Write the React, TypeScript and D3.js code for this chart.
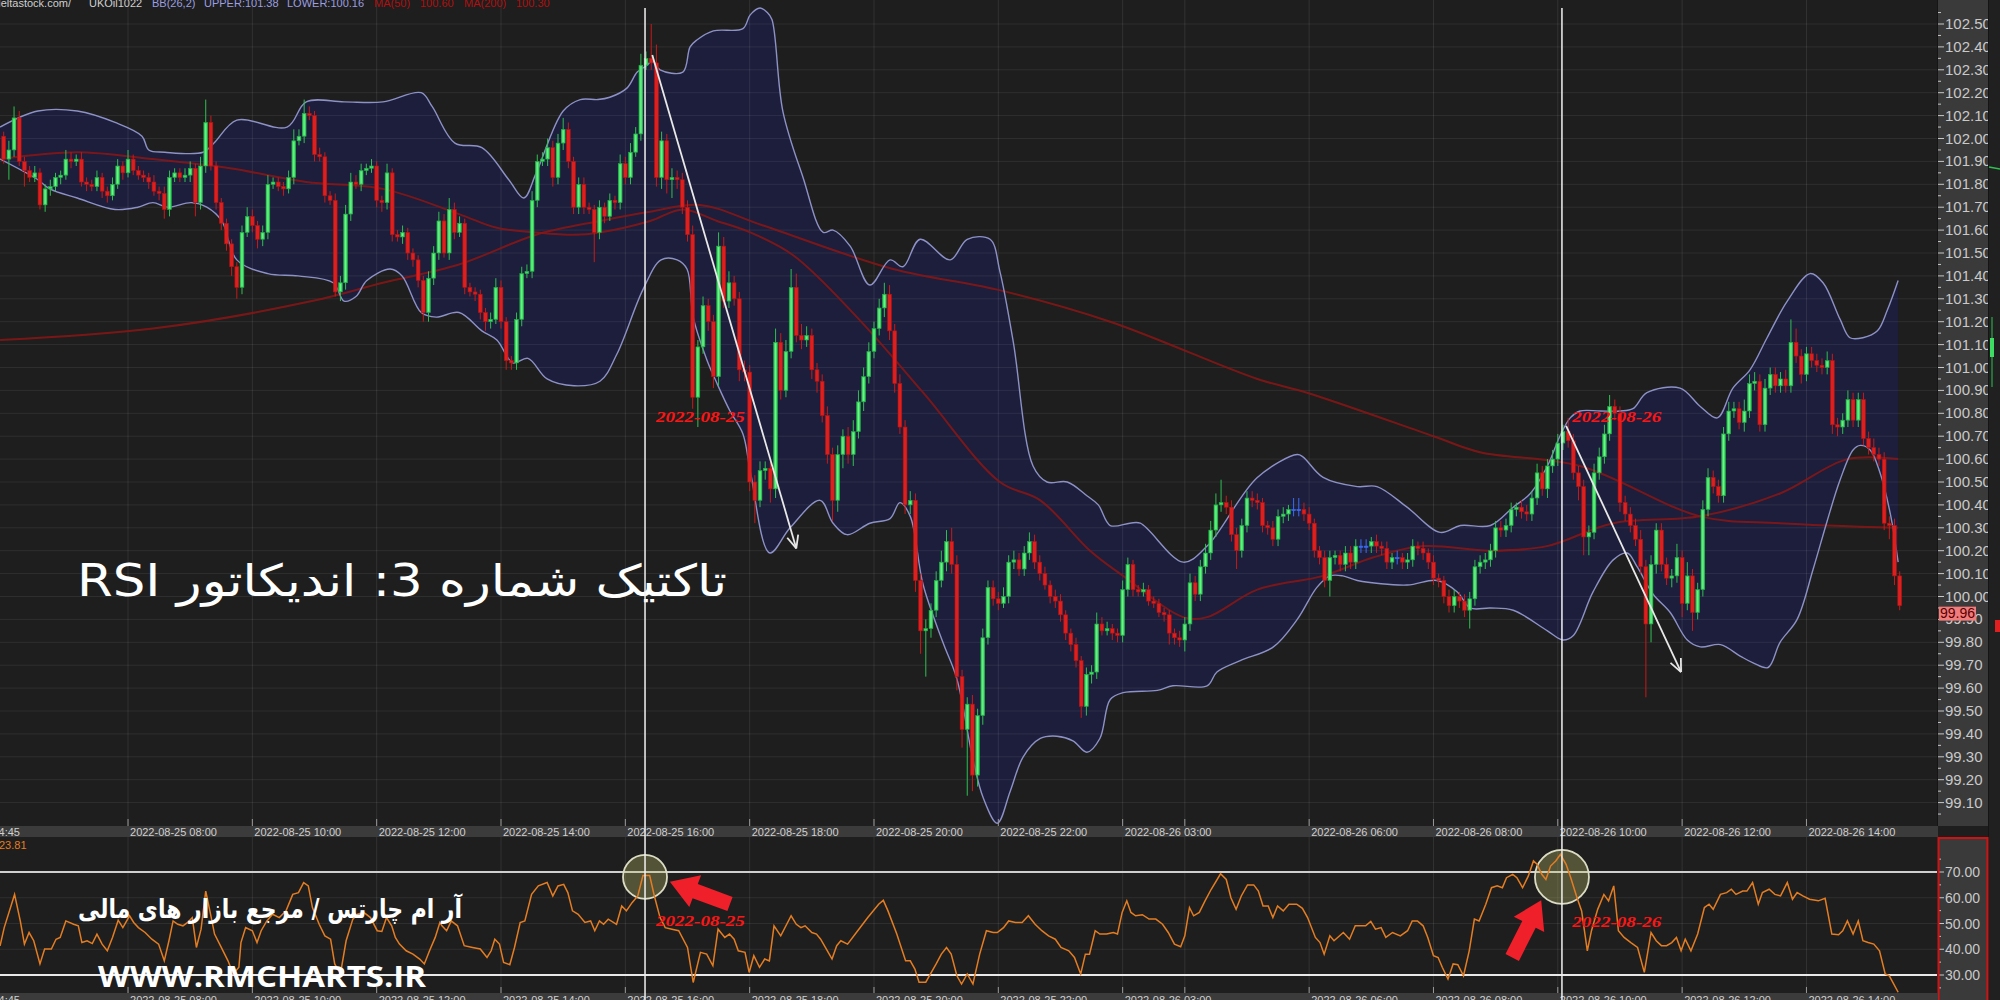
import React from "react";
import * as d3 from "d3";

// ---------------- DATA ----------------
const firstOpen = 102.01;
const closes: number[] = [
  101.91,101.95,102.09,101.90,101.86,101.83,101.85,101.71,101.78,101.79,
  101.83,101.84,101.91,101.90,101.91,101.81,101.80,101.79,101.83,101.77,
  101.75,101.80,101.88,101.85,101.91,101.86,101.84,101.83,101.81,101.77,
  101.76,101.69,101.83,101.85,101.83,101.84,101.87,101.72,101.88,102.07,
  101.88,101.72,101.63,101.54,101.44,101.35,101.59,101.66,101.62,101.56,
  101.59,101.80,101.81,101.79,101.78,101.83,101.99,102.01,102.11,102.10,
  101.93,101.92,101.75,101.73,101.33,101.37,101.67,101.81,101.80,101.86,
  101.87,101.88,101.73,101.72,101.85,101.58,101.57,101.59,101.50,101.47,
  101.38,101.24,101.39,101.50,101.64,101.50,101.69,101.59,101.63,101.35,
  101.33,101.32,101.24,101.20,101.21,101.35,101.20,101.03,101.02,101.21,
  101.41,101.42,101.73,101.90,101.91,101.96,101.83,101.98,102.04,101.90,
  101.70,101.80,101.70,101.69,101.59,101.70,101.66,101.73,101.72,101.89,
  101.83,101.94,102.02,102.32,102.35,102.33,101.83,101.99,101.82,101.83,
  101.82,101.70,101.58,100.87,101.09,101.27,101.20,100.96,101.53,101.29,
  101.37,101.30,100.99,100.98,100.50,100.42,100.55,100.56,100.47,101.11,
  100.90,101.07,101.35,101.14,101.12,101.14,100.99,100.94,100.79,100.62,
  100.42,100.62,100.70,100.62,100.72,100.85,100.96,101.07,101.17,101.26,
  101.32,101.16,100.93,100.74,100.40,100.42,100.07,99.85,99.86,99.94,
  100.07,100.15,100.24,100.14,99.65,99.42,99.53,99.22,99.48,99.82,
  100.04,99.99,99.97,100.00,100.15,100.16,100.12,100.19,100.24,100.15,
  100.10,100.05,100.00,99.98,99.92,99.84,99.79,99.72,99.52,99.66,
  99.67,99.88,99.85,99.86,99.84,99.83,100.03,100.14,100.03,100.02,
  100.03,99.98,99.97,99.93,99.92,99.84,99.82,99.81,99.88,100.06,
  100.01,100.13,100.19,100.29,100.40,100.41,100.39,100.27,100.20,100.31,
  100.43,100.42,100.41,100.31,100.30,100.25,100.35,100.36,100.38,100.38,
  100.38,100.36,100.32,100.20,100.17,100.07,100.17,100.18,100.14,100.19,
  100.15,100.22,100.22,100.22,100.24,100.22,100.21,100.15,100.17,100.17,
  100.15,100.16,100.22,100.21,100.19,100.15,100.08,100.07,100.00,99.96,
  100.00,99.98,99.94,99.99,100.13,100.15,100.16,100.20,100.30,100.29,
  100.31,100.38,100.39,100.37,100.36,100.43,100.54,100.47,100.57,100.60,
  100.67,100.72,100.68,100.54,100.48,100.26,100.28,100.54,100.61,100.71,
  100.83,100.80,100.41,100.36,100.31,100.25,100.13,99.88,100.14,100.29,
  100.14,100.08,100.09,100.17,99.97,100.09,99.93,100.03,100.38,100.52,
  100.48,100.44,100.71,100.81,100.82,100.76,100.81,100.93,100.94,100.75,
  100.91,100.97,100.92,100.95,100.92,101.11,101.05,100.97,101.06,101.03,
  101.01,101.00,101.03,100.75,100.74,100.77,100.86,100.77,100.86,100.69,
  100.65,100.62,100.60,100.32,100.31,100.09,99.96,
];
// wick extensions in cents
const wickUp: number[] = [
  2,4,5,3,2,2,3,2,2,3, 2,2,4,3,2,3,2,2,3,2, 2,3,3,2,4,2,2,2,2,3, 2,3,3,2,2,3,3,2,4,10,
  3,2,2,2,2,2,3,4,3,2, 3,4,2,2,2,3,5,3,6,3, 2,3,2,2,3,3,4,4,3,3, 2,3,2,2,4,2,2,3,2,2,
  2,2,3,3,4,3,5,3,3,2, 2,2,2,2,3,4,3,2,2,3, 3,3,4,3,3,4,3,4,5,3, 2,3,3,2,2,3,2,3,2,4,
  3,4,3,5,3,15,8,4,3,4, 3,3,3,4,3,4,3,3,6,4, 5,3,3,4,3,3,4,3,3,6, 4,5,8,6,5,4,3,3,3,4,
  3,4,3,4,5,5,4,4,3,4, 5,4,3,4,3,4,3,3,4,3, 4,5,5,6,4,3,3,4,3,4, 3,3,3,4,3,4,3,3,4,3,
  3,3,2,3,3,2,2,3,2,3, 3,5,3,3,2,2,4,3,2,2, 3,2,2,2,2,2,2,3,3,4, 3,3,4,4,5,10,3,3,3,3,
  3,3,3,2,2,3,3,3,2,5, 5,3,3,2,2,3,3,2,2,3, 3,3,3,3,2,3,2,3,2,3, 2,3,3,2,3,2,3,2,2,3,
  3,2,3,3,3,3,3,3,3,3, 3,3,2,3,3,3,4,3,3,4, 4,3,6,3,3,3,3,4,4,4, 5,3,3,3,3,3,4,3,4,3,
  3,3,3,6,3,6,3,3,4,4, 3,3,3,4,3,3,5,4,4,3, 4,3,3,3,4,10,6,3,3,3, 3,3,4,3,3,3,4,3,3,3,
  3,4,3,3,3,3,2,
];
const wickDn: number[] = [
  2,9,3,2,7,2,2,2,3,3, 2,3,2,3,2,2,3,2,2,3, 3,2,2,3,2,2,2,2,3,2, 3,4,3,2,2,2,3,6,3,3,
  2,3,3,3,4,5,3,2,3,4, 3,3,2,2,3,2,3,2,3,2, 3,2,3,2,2,4,3,3,2,3, 2,2,3,4,3,3,2,3,3,3,
  3,4,4,3,3,2,3,3,2,3, 2,3,3,4,3,2,3,4,3,3, 3,2,3,3,2,3,4,3,3,3, 3,3,3,2,13,3,3,2,3,3,
  3,3,2,3,2,3,4,5,6,8, 4,3,3,5,13,3,4,5,4,3, 3,3,5,4,4,10,3,4,6,4, 4,3,3,3,4,3,4,5,3,4,
  9,5,6,4,5,3,4,3,3,3, 4,4,4,3,4,4,5,10,20,4, 3,3,4,4,6,8,29,7,5,4, 3,3,3,2,3,3,3,3,3,3,
  3,2,3,3,3,3,3,3,5,4, 4,3,2,2,3,3,3,3,3,2, 2,2,2,2,3,5,3,3,5,3, 3,3,3,3,3,3,3,3,8,3,
  3,3,3,3,3,3,3,3,3,3, 3,3,3,3,3,3,7,3,3,3, 3,3,3,3,3,3,3,3,3,3, 3,3,3,3,3,3,3,3,3,3,
  3,3,3,8,3,3,3,3,3,3, 3,3,3,3,3,3,3,3,4,3, 3,3,3,3,6,8,8,3,3,3, 3,3,4,3,3,3,3,32,8,4,
  3,3,4,3,6,3,8,3,3,3, 3,3,3,3,3,3,4,3,3,3, 3,3,3,3,3,3,3,4,3,3, 3,3,3,4,4,3,3,3,3,3,
  3,3,3,3,6,4,2,
];

// Bollinger band (26,2) and moving averages, read as [bar, price]
const bbUpper: [number, number][] = [
  [-0.7,102.05],[6.6,102.12],[14.2,102.12],[21.5,102.07],[26.7,102.01],[28,101.95],[31.1,101.94],[38.5,101.94],
  [40.6,101.98],[45,102.08],[54.7,102.05],[58.4,102.16],[65.7,102.16],[73.2,102.16],[80.6,102.20],[82.7,102.14],
  [87.1,101.98],[92.3,101.96],[97.5,101.82],[100.4,101.74],[102.8,101.85],[108,102.12],[111.3,102.17],[114.7,102.17],
  [117,102.18],[120.3,102.22],[122.3,102.29],[124.2,102.32],[125.2,102.34],[126.7,102.30],[131.1,102.29],[132.5,102.40],
  [133.8,102.43],[137,102.47],[142.7,102.48],[144.1,102.54],[146,102.57],[147.4,102.55],[148.3,102.52],[150.4,102.12],
  [154.3,101.83],[158.2,101.59],[160.1,101.60],[163.4,101.53],[167.2,101.36],[171.1,101.47],[173.6,101.44],[176.9,101.56],
  [182.7,101.47],[186,101.56],[190.4,101.56],[192.3,101.42],[194.9,101.11],[198.7,100.57],[201.4,100.50],[205.3,100.50],
  [209.1,100.44],[211.3,100.40],[213.6,100.31],[217.4,100.32],[219.4,100.32],[227.7,100.15],[232.3,100.22],[242,100.52],
  [249.7,100.62],[250.8,100.61],[254.7,100.52],[261.3,100.48],[265.1,100.48],[270.9,100.39],[277.3,100.28],[281.2,100.31],
  [287,100.31],[291.4,100.39],[294.7,100.45],[298,100.57],[300.4,100.70],[302.4,100.78],[304.3,100.81],[308.2,100.81],
  [312,100.81],[314.5,100.82],[317.2,100.89],[323.6,100.91],[327.5,100.83],[330.8,100.78],[333.8,100.91],[337.1,100.99],
  [340.4,101.13],[344.3,101.29],[348.7,101.41],[351.2,101.37],[354.5,101.21],[356.4,101.13],[358.9,101.13],[361.7,101.16],
  [363.6,101.25],[365.7,101.38],
];
const bbLower: [number, number][] = [
  [-0.7,101.91],[6.6,101.82],[8.9,101.78],[14.2,101.74],[21.5,101.69],[25.9,101.70],[28.8,101.72],[31.7,101.70],
  [36.2,101.72],[39.2,101.70],[42.1,101.64],[45,101.47],[51,101.41],[56.8,101.40],[63.6,101.37],[65.7,101.29],
  [68,101.31],[70.1,101.38],[74.6,101.43],[76.9,101.40],[80.6,101.24],[83.5,101.22],[87.9,101.24],[92.3,101.16],
  [95.2,101.12],[98.3,101.02],[101.2,101.04],[104.9,100.95],[110.1,100.92],[115.1,100.94],[118.4,101.06],[123.4,101.34],
  [126.9,101.47],[130,101.47],[131.9,101.43],[133.1,101.22],[135.8,101.03],[137.7,100.93],[140.2,100.81],[142.7,100.71],
  [144.1,100.55],[147.9,100.19],[151.8,100.30],[157.6,100.42],[160.1,100.32],[162.8,100.27],[167.2,100.32],[171.1,100.34],
  [173,100.41],[175,100.35],[177.5,100.05],[181.3,99.80],[184,99.64],[187.1,99.29],[189.1,99.12],[191.8,99.01],
  [194.3,99.15],[196.8,99.30],[200.1,99.38],[203.3,99.39],[206.4,99.37],[209.1,99.32],[211.6,99.38],[213.6,99.55],
  [216.1,99.58],[222.7,99.59],[225.7,99.61],[232.3,99.61],[234.2,99.67],[238.7,99.72],[245.1,99.78],[249.7,99.90],
  [253.5,100.04],[256,100.09],[258.5,100.09],[261.3,100.07],[270.9,100.05],[276.7,100.07],[280.6,100.02],[283.1,99.95],
  [287,99.95],[291.4,99.94],[298,99.85],[301,99.81],[303,99.83],[306.8,100.02],[310.7,100.16],[313.4,100.19],
  [315.3,100.13],[318.4,100.01],[321.7,99.93],[325,99.81],[327.5,99.78],[331.4,99.79],[335.2,99.74],[337.7,99.71],
  [340.6,99.69],[342.9,99.80],[346.2,99.90],[349.3,100.12],[352,100.33],[354.5,100.51],[357,100.64],[358.4,100.66],
  [360.3,100.64],[362.2,100.54],[364.2,100.36],[365.7,100.15],
];
const ma50: [number, number][] = [
  [-0.7,101.91],[14.2,101.94],[28.8,101.91],[43.7,101.87],[58.4,101.81],[73.2,101.78],[87.9,101.67],[95.2,101.61],
  [102.8,101.59],[110.1,101.58],[115.1,101.59],[124.8,101.64],[131.1,101.69],[137.7,101.64],[144.1,101.59],[152.4,101.49],
  [164.7,101.22],[177.5,100.89],[192.3,100.50],[200.1,100.42],[209.7,100.20],[216.1,100.09],[227.7,99.91],[232.3,99.91],
  [242,100.03],[254.7,100.09],[264.3,100.17],[274,100.22],[287,100.20],[297.9,100.22],[310.7,100.32],[327.5,100.35],
  [342.9,100.45],[355.9,100.60],[365.7,100.60],
];
const ma200: [number, number][] = [
  [-0.7,101.12],[28.8,101.17],[59.5,101.29],[73.2,101.37],[87.9,101.45],[102.8,101.58],[115.1,101.64],[124.8,101.68],
  [134.4,101.71],[146.6,101.62],[171.7,101.43],[191.8,101.34],[213.6,101.20],[242,100.95],[251.6,100.89],[276,100.70],
  [285,100.63],[304.3,100.57],[327.5,100.35],[342.9,100.32],[365.7,100.30],
];
// RSI, read as [bar, value]
const rsi: [number, number][] = [
  [-0.7,41.3],[0.1,48.4],[2.1,61.3],[3.2,51.0],[4.0,42.0],[4.9,46.5],[5.8,43.3],[7.0,34.3],[7.9,40.1],[9.2,40.1],
  [10.1,43.9],[10.9,44.6],[12.0,51.0],[13.5,49.7],[14.4,49.1],[15.1,42.6],[16.1,43.3],[17.1,42.2],[18.0,45.9],[19.0,42.0],
  [20.0,39.4],[21.0,44.6],[22.1,51.3],[23.0,48.4],[24.3,53.0],[25.1,50.4],[26.0,48.4],[27.3,46.5],[28.6,43.9],[29.9,42.0],
  [31.0,35.5],[31.9,43.3],[32.7,51.0],[33.6,49.7],[34.6,49.1],[35.5,50.4],[36.4,52.3],[37.2,40.7],[38.1,47.8],[39.0,62.6],
  [39.8,54.9],[40.7,45.9],[42.0,40.7],[43.3,35.5],[44.3,30.4],[45.4,33.0],[45.8,42.6],[46.7,48.4],[48.0,47.2],[48.9,42.6],
  [49.7,47.2],[50.8,51.0],[51.9,53.6],[53.2,52.3],[54.5,54.9],[55.8,61.3],[56.9,62.0],[57.9,65.9],[58.8,64.6],[59.6,56.2],
  [60.9,49.7],[62.0,45.2],[63.1,43.9],[63.9,34.3],[65.0,30.4],[66.1,43.3],[67.4,51.7],[68.3,53.6],[69.5,54.3],[70.8,52.3],
  [72.1,47.2],[73.0,46.9],[73.9,52.3],[74.9,49.1],[75.6,44.6],[76.4,42.0],[77.7,39.4],[79.0,38.1],[80.3,36.2],[81.2,34.3],
  [82.2,39.4],[83.3,44.6],[84.2,50.4],[84.6,49.1],[85.5,47.2],[86.4,51.0],[87.6,49.1],[88.9,41.4],[90.5,40.7],[92.0,40.1],
  [93.3,36.8],[94.1,39.4],[94.8,43.9],[95.7,42.0],[96.5,34.9],[97.7,34.0],[98.6,40.7],[99.7,50.4],[100.6,51.0],[101.9,61.3],
  [103.2,64.6],[104.9,65.9],[106.0,60.7],[107.0,64.6],[108.1,65.2],[108.9,62.0],[109.8,54.9],[110.9,53.6],[112.2,50.4],[113.3,51.0],
  [114.1,47.2],[115.0,51.0],[115.8,49.7],[116.7,51.7],[118.3,49.7],[119.3,56.8],[120.2,54.9],[121.3,58.1],[122.4,60.7],[123.4,68.6],
  [124.7,68.6],[125.6,60.7],[126.7,52.3],[127.7,48.4],[129.0,47.8],[130.3,47.2],[132.0,40.7],[133.1,27.1],[134.5,38.8],[135.7,38.1],
  [136.9,33.6],[137.9,47.8],[139.2,44.6],[140.1,45.9],[141.0,43.9],[141.8,39.4],[143.1,38.8],[143.9,31.0],[144.8,37.5],[145.9,33.0],
  [146.9,36.2],[147.8,35.5],[148.7,49.1],[150.0,45.2],[152.0,53.0],[153.0,49.7],[153.9,48.4],[154.7,49.1],[156.0,46.5],[156.9,45.9],
  [157.7,43.9],[159.0,39.4],[159.9,36.2],[160.8,41.4],[161.6,43.3],[162.9,42.0],[164.6,46.5],[166.8,52.3],[168.9,57.5],[169.8,59.0],
  [170.7,54.9],[172.4,45.9],[174.1,35.5],[175.0,35.5],[175.9,32.3],[176.7,27.2],[178.0,27.2],[178.9,30.4],[180.0,34.3],[181.0,38.1],
  [182.0,40.7],[182.9,38.1],[184.0,29.7],[184.9,26.5],[186.0,30.4],[187.1,26.5],[188.4,38.1],[189.7,47.2],[191.0,46.5],[191.8,46.5],
  [193.0,48.4],[194.0,51.0],[195.3,50.4],[196.6,50.4],[197.8,53.0],[199.1,49.7],[200.4,47.2],[201.7,45.2],[203.0,43.9],[204.1,40.7],
  [205.6,39.4],[206.7,36.8],[207.9,30.4],[208.8,38.1],[209.6,38.1],[210.7,47.2],[211.6,45.9],[212.9,45.9],[214.2,46.5],[215.0,45.9],
  [215.9,54.3],[216.8,58.8],[217.6,54.3],[218.5,53.0],[219.8,53.4],[221.1,51.7],[222.4,51.7],[223.7,49.7],[224.8,46.5],[226.0,42.0],
  [227.2,41.0],[228.0,45.2],[228.9,56.2],[229.7,53.0],[230.8,54.3],[231.9,58.8],[233.1,63.3],[234.9,69.3],[236.0,67.1],[236.9,60.0],
  [237.9,55.5],[238.9,60.7],[240.1,65.0],[241.3,65.0],[242.2,62.6],[243.1,56.8],[244.1,56.8],[245.0,52.3],[245.9,56.8],[247.0,54.9],
  [248.1,57.5],[249.6,57.5],[250.7,55.9],[251.7,52.3],[253.2,44.6],[254.1,42.6],[254.9,38.1],[256.0,45.2],[256.8,43.3],[258.6,46.5],
  [259.8,43.9],[260.9,49.1],[262.9,49.1],[263.9,50.8],[264.8,47.8],[265.9,48.4],[266.8,44.6],[268.1,46.5],[269.6,45.2],[271.0,47.2],
  [271.9,51.0],[272.9,51.0],[274.0,49.1],[274.9,44.6],[276.0,37.5],[276.9,36.8],[277.7,33.0],[278.8,28.4],[279.8,34.3],[280.7,34.0],
  [281.8,29.7],[282.9,39.4],[283.9,51.7],[284.8,51.0],[286.1,57.5],[287.2,63.9],[288.3,64.6],[289.3,63.9],[290.1,67.8],[291.3,69.1],
  [292.1,67.8],[293.2,63.9],[294.3,68.4],[295.3,74.3],[296.0,73.0],[296.9,69.1],[297.7,67.1],[298.6,72.3],[299.6,74.3],[300.5,76.8],
  [301.6,73.0],[302.5,67.8],[303.6,60.7],[304.6,54.9],[305.7,39.4],[306.5,47.2],[307.7,55.5],[308.9,61.3],[309.8,58.8],[310.8,64.6],
  [311.7,47.2],[312.8,44.6],[314.1,42.6],[315.4,40.7],[316.7,31.0],[318.0,46.5],[319.0,43.3],[320.0,41.4],[321.0,41.4],[322.0,42.6],
  [322.9,44.6],[323.8,39.4],[324.6,43.9],[325.7,39.4],[327.0,45.9],[328.3,56.2],[329.2,57.5],[330.0,55.5],[331.4,61.3],[332.6,62.0],
  [333.5,63.3],[334.4,61.3],[335.7,62.6],[336.5,62.6],[337.6,65.9],[338.7,57.5],[339.5,62.0],[340.8,63.3],[341.9,61.3],[343.0,60.7],
  [344.3,65.9],[345.3,59.4],[346.2,62.0],[347.3,60.7],[348.6,59.4],[350.3,58.8],[351.6,59.8],[352.9,45.9],[354.2,45.6],[355.0,47.2],
  [355.9,51.0],[357.0,45.9],[358.0,51.0],[358.9,43.3],[359.9,42.6],[361.0,42.0],[362.1,39.4],[363.2,30.4],[364.0,29.7],[365.7,23.3],
];

const priceTicks = [102.5,102.4,102.3,102.2,102.1,102.0,101.9,101.8,101.7,101.6,101.5,101.4,101.3,101.2,101.1,101.0,
  100.9,100.8,100.7,100.6,100.5,100.4,100.3,100.2,100.1,100.0,99.9,99.8,99.7,99.6,99.5,99.4,99.3,99.2,99.1];
const rsiTicks = [70, 60, 50, 40, 30];
const rsiMinorTicks = [75, 65, 55, 45, 35, 25];
const timeTickBars = [24, 48, 72, 96, 120, 144, 168, 192, 216, 228, 252, 276, 300, 324, 348];
const timeTickLabels = ["2022-08-25 08:00","2022-08-25 10:00","2022-08-25 12:00","2022-08-25 14:00","2022-08-25 16:00",
  "2022-08-25 18:00","2022-08-25 20:00","2022-08-25 22:00","2022-08-26 03:00","","2022-08-26 06:00","2022-08-26 08:00",
  "2022-08-26 10:00","2022-08-26 12:00","2022-08-26 14:00"];

// annotations in data coordinates
const markerBars = [123.8, 300.8];
const markerDates = ["2022-08-25", "2022-08-26"];
const dateLabelBars = [125.9, 302.8];
const dateLabelPrice = [100.76, 100.76];
const dateLabelRsi = [49.0, 48.6];
const trendFrom: [number, number][] = [[125.2, 102.365], [301.6, 100.745]];
const trendTo: [number, number][] = [[153.0, 100.21], [323.8, 99.67]];
const circleCenters: [number, number][] = [[123.8, 68.1], [300.8, 68.1]];
const circleRadius = [22, 27];
const redArrowTip: [number, number][] = [[128.6, 66.2], [296.8, 59.0]];
const redArrowTail: [number, number][] = [[140.2, 57.6], [291.2, 36.8]];

const FONT_AX = "'Liberation Sans', Arial, sans-serif";
const FONT_NAR = "'Liberation Sans Narrow', 'Arial Narrow', 'Liberation Sans', sans-serif";

function blockArrow(tx: number, ty: number, sx: number, sy: number, sw: number, hw: number, hl: number) {
  const dx = tx - sx, dy = ty - sy;
  const L = Math.hypot(dx, dy);
  const ux = dx / L, uy = dy / L;
  const px = -uy, py = ux;
  const bx = tx - ux * hl, by = ty - uy * hl;
  const pts = [
    [sx + px * sw, sy + py * sw], [bx + px * sw, by + py * sw], [bx + px * hw, by + py * hw], [tx, ty],
    [bx - px * hw, by - py * hw], [bx - px * sw, by - py * sw], [sx - px * sw, sy - py * sw],
  ];
  return "M" + pts.map((p) => p[0].toFixed(1) + "," + p[1].toFixed(1)).join("L") + "Z";
}

export default function App() {
  const plotR = 1937;
  const mainBot = 826;
  const rsiTop = 837, rsiBot = 993;
  const x = d3.scaleLinear().domain([-0.714, 373.2]).range([0, plotR]);
  const y = d3.scaleLinear().domain([102.5, 99.1]).range([24, 802.6]);
  const ry = d3.scaleLinear().domain([70, 30]).range([872, 975]);

  const curve = d3.line<[number, number]>().curve(d3.curveCatmullRom.alpha(0.5));
  const toXY = (arr: [number, number][]) => arr.map((d) => [x(d[0]), y(d[1])] as [number, number]);
  const upPts = toXY(bbUpper);
  const loPts = toXY(bbLower);
  const upD = curve(upPts) || "";
  const loD = curve(loPts) || "";
  const loRev = curve([...loPts].reverse()) || "";
  const bandD = upD + "L" + loRev.slice(1) + "Z";
  const ma50D = curve(toXY(ma50)) || "";
  const ma200D = curve(toXY(ma200)) || "";
  const rsiD = d3.line<[number, number]>().x((d) => x(d[0])).y((d) => ry(d[1]))(rsi) || "";

  const candles = closes.map((c, i) => {
    const o = i === 0 ? firstOpen : closes[i - 1];
    return { i, o, c, hi: Math.max(o, c) + wickUp[i] / 100, lo: Math.min(o, c) - wickDn[i] / 100 };
  });
  const bw = 3.8;
  const lastClose = closes[closes.length - 1];
  const lastRsi = rsi[rsi.length - 1][1];

  const persianFont = "'DejaVu Sans', 'Noto Sans', sans-serif";

  return (
    <svg width={2000} height={1000} style={{ position: "absolute", left: 0, top: 0, display: "block", background: "#1e1e1e" }}>
      <defs>
        <clipPath id="mainClip"><rect x={0} y={0} width={plotR} height={mainBot} /></clipPath>
        <clipPath id="rsiClip"><rect x={0} y={rsiTop} width={plotR} height={rsiBot - rsiTop} /></clipPath>
      </defs>
      <rect x={0} y={0} width={2000} height={1000} fill="#1e1e1e" />

      {/* ---------- main panel ---------- */}
      <g clipPath="url(#mainClip)">
        <path d={bandD} fill="#1c1e3b" />
        {priceTicks.map((p) => (
          <line key={"hg" + p} x1={0} x2={plotR} y1={y(p)} y2={y(p)} stroke="rgba(255,255,255,0.075)" strokeWidth={1} />
        ))}
        {timeTickBars.map((b) => (
          <line key={"vg" + b} x1={x(b)} x2={x(b)} y1={0} y2={mainBot} stroke="rgba(255,255,255,0.09)" strokeWidth={1} />
        ))}
        <path d={ma200D} fill="none" stroke="#8a1616" strokeWidth={2} opacity={0.85} />
        <path d={ma50D} fill="none" stroke="#8a1616" strokeWidth={2} opacity={0.85} />
        <path d={upD} fill="none" stroke="#8d91c6" strokeWidth={1.4} />
        <path d={loD} fill="none" stroke="#8d91c6" strokeWidth={1.4} />
        {candles.map((d) => {
          const up = d.c > d.o, flat = Math.abs(d.c - d.o) < 0.001;
          const col = flat ? "#3b6cf2" : up ? "#3fdc63" : "#dc1f1f";
          const wc = flat ? "#3b6cf2" : up ? "#2fbf52" : "#c81a1a";
          const cx = x(d.i);
          const top = y(Math.max(d.o, d.c));
          const h = Math.max(1.2, Math.abs(y(d.o) - y(d.c)));
          return (
            <g key={"c" + d.i}>
              <line x1={cx} x2={cx} y1={y(d.hi)} y2={y(d.lo)} stroke={wc} strokeWidth={1} />
              <rect x={cx - bw / 2} y={top} width={bw} height={h} fill={col} stroke={up ? "#22a845" : flat ? col : "#b01414"} strokeWidth={0.6} />
              {up && h > 3 ? <line x1={cx} x2={cx} y1={top + 1} y2={top + h - 1} stroke="#8affa6" strokeWidth={1} opacity={0.7} /> : null}
            </g>
          );
        })}
        {/* white trend arrows */}
        {trendFrom.map((f, k) => {
          const x1 = x(f[0]), y1 = y(f[1]), x2 = x(trendTo[k][0]), y2 = y(trendTo[k][1]);
          const a = Math.atan2(y2 - y1, x2 - x1);
          const hl = 14, sp = 0.42;
          return (
            <g key={"ta" + k} stroke="#e8e8e8" strokeWidth={1.8} fill="none">
              <line x1={x1} y1={y1} x2={x2} y2={y2} />
              <line x1={x2} y1={y2} x2={x2 - hl * Math.cos(a - sp)} y2={y2 - hl * Math.sin(a - sp)} />
              <line x1={x2} y1={y2} x2={x2 - hl * Math.cos(a + sp)} y2={y2 - hl * Math.sin(a + sp)} />
            </g>
          );
        })}
        {dateLabelBars.map((b, k) => (
          <text key={"dl" + k} x={x(b)} y={y(dateLabelPrice[k])} fill="#ff1414" fontFamily="'Liberation Serif', serif"
            fontWeight="bold" fontStyle="italic" fontSize={15} textLength={89} lengthAdjust="spacingAndGlyphs">{markerDates[k]}</text>
        ))}
      </g>

      {/* header */}
      <g fontFamily={FONT_AX} fontSize={11}>
        <text x={71} y={7} fill="#cfcfcf" textAnchor="end">www.deltastock.com/</text>
        <text x={89} y={7} fill="#cfcfcf">UKOil1022</text>
        <text x={152} y={7} fill="#9d9fe0">BB(26,2)</text>
        <text x={204} y={7} fill="#9d9fe0">UPPER:101.38</text>
        <text x={287} y={7} fill="#9d9fe0">LOWER:100.16</text>
        <text x={374} y={7} fill="#b01010">MA(50)</text>
        <text x={420} y={7} fill="#b01010">100.60</text>
        <text x={464} y={7} fill="#b01010">MA(200)</text>
        <text x={516} y={7} fill="#b01010">100.30</text>
      </g>

      {/* persian title */}
      <text x={402} y={596} fill="#ffffff" fontFamily={persianFont} fontSize={44} textAnchor="middle" direction="rtl"
        textLength={650} lengthAdjust="spacingAndGlyphs">تاکتیک شماره 3: اندیکاتور RSI</text>

      {/* price axis */}
      <rect x={plotR + 1} y={0} width={50} height={mainBot} fill="#3a3a3a" />
      <line x1={plotR + 0.5} x2={plotR + 0.5} y1={0} y2={mainBot} stroke="#151515" strokeWidth={1} />
      {priceTicks.map((p) => (
        <g key={"pt" + p}>
          <line x1={plotR + 1} x2={plotR + 7} y1={y(p)} y2={y(p)} stroke="#c8c8c8" strokeWidth={1} />
          <line x1={plotR + 1} x2={plotR + 4} y1={y(p + 0.05)} y2={y(p + 0.05)} stroke="#c8c8c8" strokeWidth={1} />
          <text x={plotR + 8} y={y(p) + 5} fill="#c9c9c9" fontFamily={FONT_NAR} fontSize={15}>{p.toFixed(2)}</text>
        </g>
      ))}
      <line x1={plotR + 1} x2={plotR + 4} y1={y(99.05)} y2={y(99.05)} stroke="#c8c8c8" strokeWidth={1} />
      <rect x={plotR + 2} y={y(lastClose) + 1} width={37} height={14} fill="#f07c7c" />
      <text x={plotR + 20.5} y={y(lastClose) + 12.5} fill="#5a0000" fontFamily={FONT_NAR} fontSize={14} textAnchor="middle">{lastClose.toFixed(2)}</text>

      {/* right strip of neighbouring window */}
      <rect x={1988} y={0} width={12} height={1000} fill="#202020" />
      <line x1={1988.5} x2={1988.5} y1={0} y2={1000} stroke="#151515" />
      <line x1={1989} x2={2000} y1={167} y2={169} stroke="#2fbf52" strokeWidth={1.5} />
      <line x1={1992} x2={1992} y1={317} y2={387} stroke="#2fbf52" strokeWidth={1} />
      <rect x={1990} y={338} width={4} height={19} fill="#3fdc63" />
      <rect x={1995} y={620} width={5} height={12} fill="#e02020" />

      {/* time axis band (middle) */}
      <rect x={0} y={mainBot} width={plotR + 1} height={rsiTop - mainBot} fill="#3b3b3b" />
      {timeTickBars.map((b, k) => (
        <g key={"tt" + b}>
          <line x1={x(b)} x2={x(b)} y1={mainBot - 7} y2={mainBot} stroke="#9a9a9a" strokeWidth={1} />
          {timeTickLabels[k] ? (
            <text x={x(b) + 2} y={836} fill="#cfcfcf" fontFamily={FONT_AX} fontSize={11}>{timeTickLabels[k]}</text>
          ) : null}
        </g>
      ))}
      <text x={20} y={836} fill="#cfcfcf" fontFamily={FONT_AX} fontSize={11} textAnchor="end">2022-08-25 04:45</text>

      {/* ---------- RSI panel ---------- */}
      <g clipPath="url(#rsiClip)">
        {rsiTicks.map((v) => (
          <line key={"rg" + v} x1={0} x2={plotR} y1={ry(v)} y2={ry(v)} stroke="rgba(255,255,255,0.075)" />
        ))}
        {timeTickBars.map((b) => (
          <line key={"rvg" + b} x1={x(b)} x2={x(b)} y1={rsiTop} y2={rsiBot} stroke="rgba(255,255,255,0.09)" />
        ))}
        <line x1={0} x2={plotR} y1={ry(70)} y2={ry(70)} stroke="#cfcfcf" strokeWidth={2} />
        <line x1={0} x2={plotR} y1={ry(30)} y2={ry(30)} stroke="#e8e8e8" strokeWidth={2} />
        {circleCenters.map((c, k) => (
          <circle key={"cc" + k} cx={x(c[0])} cy={ry(c[1])} r={circleRadius[k]} fill="rgba(190,190,110,0.33)" stroke="#dcdcc4" strokeWidth={1.8} />
        ))}
        <path d={rsiD} fill="none" stroke="#e47d22" strokeWidth={1.5} />
        {dateLabelBars.map((b, k) => (
          <text key={"rdl" + k} x={x(b)} y={ry(dateLabelRsi[k])} fill="#ff1414" fontFamily="'Liberation Serif', serif"
            fontWeight="bold" fontStyle="italic" fontSize={15} textLength={89} lengthAdjust="spacingAndGlyphs">{markerDates[k]}</text>
        ))}
        {redArrowTip.map((t, k) => (
          <path key={"ra" + k} d={blockArrow(x(t[0]), ry(t[1]), x(redArrowTail[k][0]), ry(redArrowTail[k][1]), 7.5, 17, 27)} fill="#f0202a" />
        ))}
        <text x={-1} y={849} fill="#e47d22" fontFamily={FONT_AX} fontSize={11}>{lastRsi === 23.3 ? "23.81" : "23.81"}</text>
        <text x={270} y={918} fill="#ffffff" fontFamily={persianFont} fontWeight="bold" fontSize={26} textAnchor="middle" direction="rtl"
          textLength={384} lengthAdjust="spacingAndGlyphs">آر ام چارتس / مرجع بازار های مالی</text>
        <text x={98} y={987} fill="#ffffff" fontFamily="'Open Sans', 'DejaVu Sans', sans-serif" fontWeight="bold" fontSize={29}
          textLength={328} lengthAdjust="spacingAndGlyphs">WWW.RMCHARTS.IR</text>
      </g>

      {/* RSI axis */}
      <rect x={plotR + 1} y={rsiTop} width={50} height={1000 - rsiTop} fill="#3a3a3a" />
      {rsiTicks.map((v) => (
        <g key={"rt" + v}>
          <line x1={plotR + 1} x2={plotR + 7} y1={ry(v)} y2={ry(v)} stroke="#c8c8c8" />
          <text x={plotR + 8} y={ry(v) + 5} fill="#c9c9c9" fontFamily={FONT_NAR} fontSize={14}>{v.toFixed(2)}</text>
        </g>
      ))}
      {rsiMinorTicks.map((v) => (
        <line key={"rmt" + v} x1={plotR + 1} x2={plotR + 4} y1={ry(v)} y2={ry(v)} stroke="#c8c8c8" />
      ))}
      <rect x={plotR + 1.5} y={rsiTop + 1} width={49} height={1000 - rsiTop} fill="none" stroke="#d21212" strokeWidth={2} />

      {/* bottom time axis band */}
      <rect x={0} y={rsiBot} width={plotR + 1} height={1000 - rsiBot} fill="#3b3b3b" />
      {timeTickBars.map((b, k) => (
        <g key={"bt" + b}>
          <line x1={x(b)} x2={x(b)} y1={rsiBot - 6} y2={rsiBot} stroke="#9a9a9a" />
          {timeTickLabels[k] ? (
            <text x={x(b) + 2} y={1004} fill="#cfcfcf" fontFamily={FONT_AX} fontSize={11}>{timeTickLabels[k]}</text>
          ) : null}
        </g>
      ))}
      <text x={20} y={1004} fill="#cfcfcf" fontFamily={FONT_AX} fontSize={11} textAnchor="end">2022-08-25 04:45</text>

      {/* vertical white markers */}
      {markerBars.map((b, k) => (
        <line key={"mk" + k} x1={x(b)} x2={x(b)} y1={8} y2={1000} stroke="#f2f2f2" strokeWidth={1.5} />
      ))}
    </svg>
  );
}
